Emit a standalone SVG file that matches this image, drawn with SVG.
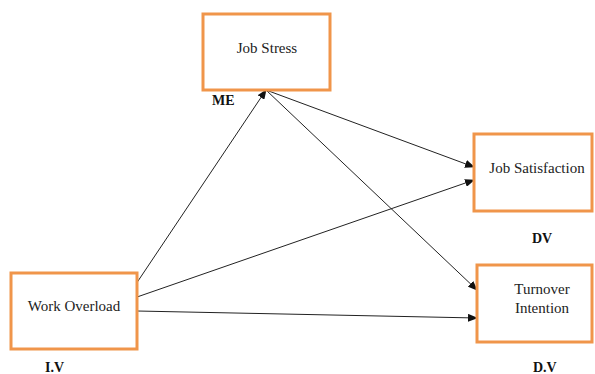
<svg xmlns="http://www.w3.org/2000/svg" width="595" height="374" viewBox="0 0 595 374">
<defs>
<style>
.box{fill:#fff;stroke:#f0954a;stroke-width:3}
.t{font-family:"Liberation Serif","Times New Roman",serif;font-size:15px;fill:#222;text-anchor:middle}
.lb{font-family:"Liberation Serif","Times New Roman",serif;font-size:14px;font-weight:bold;fill:#111}
.c{stroke:#222;stroke-width:1;fill:none;marker-end:url(#ah)}
</style>
<marker id="ah" markerWidth="10" markerHeight="8" refX="9" refY="4" orient="auto" markerUnits="userSpaceOnUse">
<path d="M0,0 L10,4 L0,8 Z" fill="#111"/>
</marker>
</defs>
<rect width="595" height="374" fill="#fff"/>
<g id="connectors">
<line class="c" x1="134" y1="287" x2="266" y2="90"/>
<line class="c" x1="266" y1="90" x2="474" y2="167"/>
<line class="c" x1="266" y1="90" x2="477" y2="290"/>
<line class="c" x1="137" y1="297" x2="474" y2="180"/>
<line class="c" x1="137" y1="311" x2="477" y2="318"/>
</g>
<g id="job-stress">
<rect class="box" x="203" y="14" width="127" height="76"/>
<text class="t" x="267" y="53">Job Stress</text>
<text class="lb" x="212" y="105">ME</text>
</g>
<g id="job-satisfaction">
<rect class="box" x="474" y="134" width="118" height="77"/>
<text class="t" x="537" y="173">Job Satisfaction</text>
<text class="lb" x="532" y="243">DV</text>
</g>
<g id="work-overload">
<rect class="box" x="11" y="273" width="126" height="76"/>
<text class="t" x="74" y="311">Work Overload</text>
<text class="lb" x="45" y="372">I.V</text>
</g>
<g id="turnover-intention">
<rect class="box" x="477" y="265" width="115" height="77"/>
<text class="t" x="542" y="294">Turnover</text>
<text class="t" x="542" y="313">Intention</text>
<text class="lb" x="533" y="372">D.V</text>
</g>
</svg>
